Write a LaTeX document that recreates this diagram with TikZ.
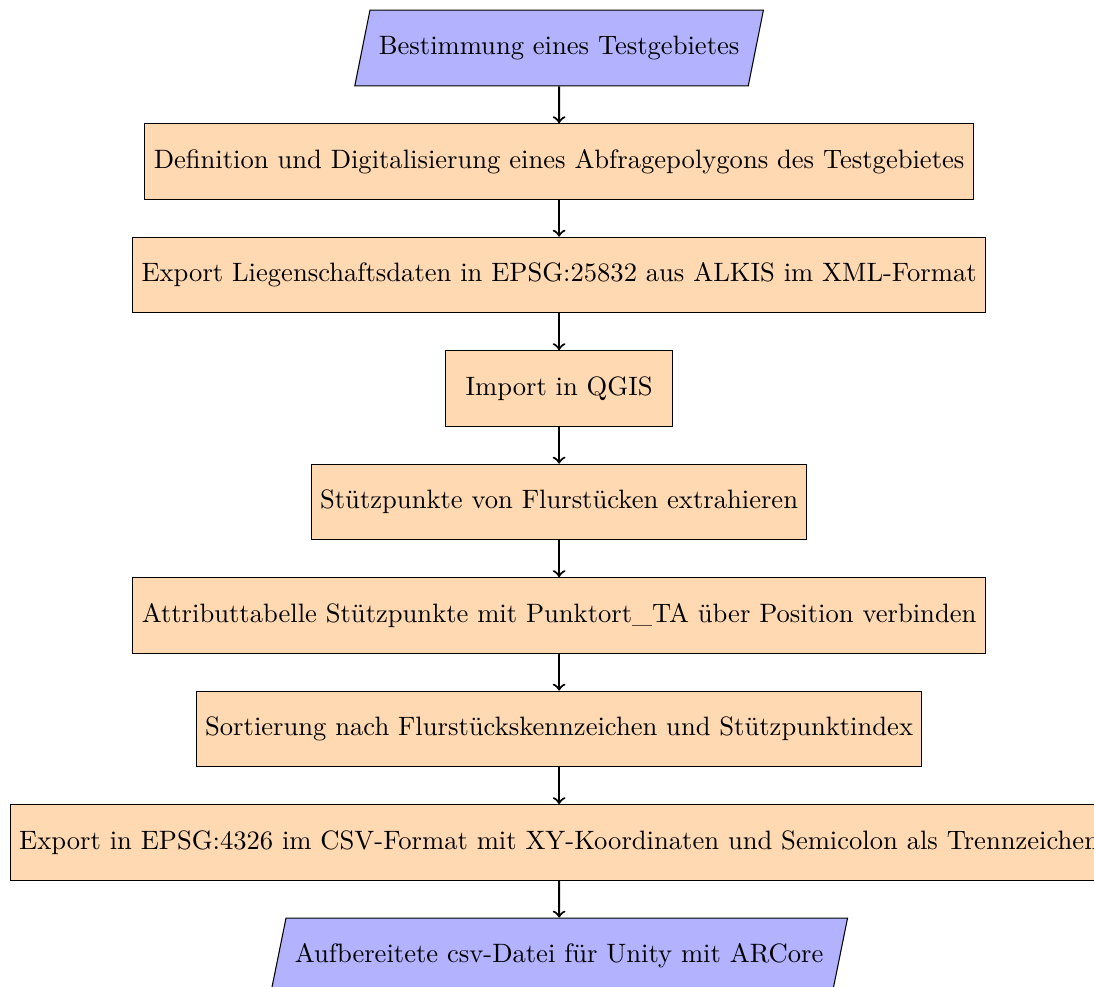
\documentclass[tikz,border=0pt]{standalone}
\usetikzlibrary{shapes.geometric}
\tikzset{
  io/.style={trapezium, trapezium left angle=70, trapezium right angle=110, trapezium stretches=true, minimum width=3cm, minimum height=1cm, text centered, draw=black, fill=blue!30},
  process/.style={rectangle, minimum width=3cm, minimum height=1cm, text centered, draw=black, fill=orange!30},
  arrow/.style={thick,->},
}
\begin{document}
\begin{tikzpicture}
\useasboundingbox (-7.39,0.635) rectangle (7.07,-12.41);
\node (start) [io] at (0,0) {Bestimmung eines Testgebietes};
\node (def) [process] at (0,-1.5) {Definition und Digitalisierung eines Abfragepolygons des Testgebietes};
\node (exp) [process] at (0,-3) {Export Liegenschaftsdaten in EPSG:25832 aus ALKIS im XML-Format};
\node (imp) [process] at (0,-4.5) {Import in QGIS};
\node (stz) [process] at (0,-6) {Stützpunkte von Flurstücken extrahieren};
\node (attr) [process] at (0,-7.5) {Attributtabelle Stützpunkte mit Punktort\_TA über Position verbinden};
\node (sort) [process] at (0,-9) {Sortierung nach Flurstückskennzeichen und Stützpunktindex};
\node (csv) [process] at (0,-10.5) {Export in EPSG:4326 im CSV-Format mit XY-Koordinaten und Semicolon als Trennzeichen};
\node (out) [io] at (0,-12) {Aufbereitete csv-Datei für Unity mit ARCore};
\draw [arrow] (start) -- (def);
\draw [arrow] (def) -- (exp);
\draw [arrow] (exp) -- (imp);
\draw [arrow] (imp) -- (stz);
\draw [arrow] (stz) -- (attr);
\draw [arrow] (attr) -- (sort);
\draw [arrow] (sort) -- (csv);
\draw [arrow] (csv) -- (out);
\end{tikzpicture}
\end{document}
